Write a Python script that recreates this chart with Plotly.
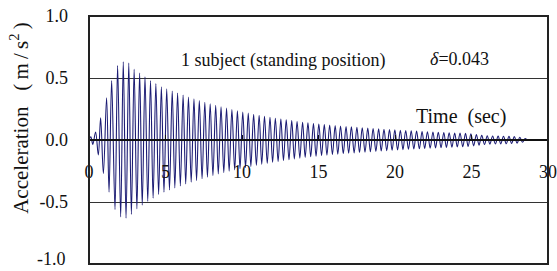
import plotly.graph_objects as go

time_s = [0.00, 0.12, 0.25, 0.43, 0.61, 0.76, 0.94, 1.15, 1.31, 1.48, 1.70, 1.87, 2.07,
          2.24, 2.42, 2.60, 2.77, 2.95, 3.13, 3.31, 3.48, 3.66, 3.84,
          4.02, 4.19, 4.37, 4.55, 4.73, 4.90, 5.08, 5.26, 5.44, 5.61,
          5.79, 5.97, 6.15, 6.32, 6.50, 6.68, 6.86, 7.03, 7.21, 7.39,
          7.57, 7.74, 7.92, 8.10, 8.28, 8.45, 8.63, 8.81, 8.99, 9.16,
          9.34, 9.52, 9.70, 9.87, 10.05, 10.23, 10.41, 10.58, 10.76, 10.94,
          11.12, 11.29, 11.47, 11.65, 11.83, 12.00, 12.18, 12.36, 12.54, 12.71,
          12.89, 13.07, 13.25, 13.42, 13.60, 13.78, 13.96, 14.13, 14.31, 14.49,
          14.67, 14.84, 15.02, 15.20, 15.38, 15.55, 15.73, 15.91, 16.09, 16.26,
          16.44, 16.62, 16.80, 16.97, 17.15, 17.33, 17.51, 17.68, 17.86, 18.04,
          18.22, 18.39, 18.57, 18.75, 18.93, 19.10, 19.28, 19.46, 19.64, 19.81,
          19.99, 20.17, 20.35, 20.52, 20.70, 20.88, 21.06, 21.23, 21.41, 21.59,
          21.77, 21.94, 22.12, 22.30, 22.48, 22.65, 22.83, 23.01, 23.19, 23.36,
          23.54, 23.72, 23.90, 24.07, 24.25, 24.43, 24.61, 24.78, 24.96, 25.14,
          25.32, 25.49, 25.67, 25.85, 26.03, 26.20, 26.38, 26.56, 26.74, 26.91,
          27.09, 27.27, 27.45, 27.62, 27.80, 27.98, 28.16, 28.33, 28.51,
          28.65]

accel = [0.0, 0.025, -0.035, 0.065, -0.12, 0.18, -0.27, 0.34, -0.42, 0.48, -0.56, 0.60, -0.62,
         0.63, -0.63, 0.62, -0.60, 0.57, -0.555, 0.54, -0.525, 0.51, -0.495,
         0.48, -0.47, 0.455, -0.44, 0.43, -0.421, 0.412, -0.403, 0.395, -0.386,
         0.378, -0.370, 0.362, -0.355, 0.347, -0.340, 0.333, -0.326, 0.319, -0.312,
         0.305, -0.299, 0.292, -0.286, 0.280, -0.274, 0.268, -0.263, 0.257, -0.252,
         0.246, -0.241, 0.236, -0.231, 0.226, -0.222, 0.217, -0.213, 0.208, -0.204,
         0.200, -0.196, 0.192, -0.188, 0.184, -0.180, 0.176, -0.173, 0.169, -0.166,
         0.162, -0.159, 0.156, -0.153, 0.149, -0.146, 0.143, -0.140, 0.138, -0.135,
         0.133, -0.131, 0.128, -0.126, 0.124, -0.122, 0.120, -0.118, 0.116, -0.114,
         0.113, -0.111, 0.109, -0.107, 0.106, -0.104, 0.102, -0.101, 0.099, -0.098,
         0.096, -0.095, 0.093, -0.092, 0.090, -0.089, 0.087, -0.086, 0.084, -0.083,
         0.082, -0.080, 0.079, -0.078, 0.077, -0.075, 0.074, -0.073, 0.072, -0.071,
         0.069, -0.068, 0.067, -0.066, 0.065, -0.064, 0.063, -0.062, 0.061, -0.060,
         0.059, -0.058, 0.057, -0.056, 0.056, -0.055, 0.054, -0.052, 0.050, -0.047,
         0.044, -0.041, 0.038, -0.036, 0.034, -0.033, 0.032, -0.032, 0.031, -0.031,
         0.030, -0.030, 0.029, -0.028, 0.027, -0.025, 0.022, -0.018, 0.012,
         0.0]

n = min(len(time_s), len(accel))
time_s, accel = time_s[:n], accel[:n]

x_ticks = [0, 5, 10, 15, 20, 25, 30]
y_ticks = [-1.0, -0.5, 0.0, 0.5, 1.0]
y_labels = ["%.1f" % v for v in y_ticks]

FONT = "Liberation Serif"
TXT = "#111"

fig = go.Figure()
fig.add_trace(go.Scatter(
    x=time_s, y=accel, mode="lines",
    line=dict(color="#1c1c74", width=1.1, shape="spline", smoothing=1.0),
    hoverinfo="skip", showlegend=False,
))

fig.update_layout(
    width=557, height=271,
    margin=dict(l=89, r=9, t=16, b=7, autoexpand=False),
    paper_bgcolor="white", plot_bgcolor="white",
    font=dict(family=FONT, size=18, color=TXT),
    showlegend=False,
    xaxis=dict(
        range=[0, 30], tickvals=x_ticks, ticktext=[str(v) for v in x_ticks],
        anchor="free", position=0.5, automargin=False,
        showline=True, linecolor="#111", linewidth=1.5,
        ticks="inside", ticklen=4, tickcolor="#111", tickwidth=1,
        ticklabelstandoff=16, ticklabeloverflow="allow",
        showgrid=False, zeroline=False,
        tickfont=dict(family=FONT, size=18, color=TXT),
    ),
    yaxis=dict(
        range=[-1, 1], tickvals=y_ticks[1:], ticktext=y_labels[1:],
        domain=[0, 1], automargin=False,
        showline=False, ticks="", ticklabelstandoff=20, ticklabeloverflow="allow",
        showgrid=True, gridcolor="#333", gridwidth=1,
        zeroline=False,
        tickfont=dict(family=FONT, size=18, color=TXT),
    ),
    shapes=[dict(type="rect", xref="paper", yref="paper", x0=0, y0=0, x1=1, y1=1,
                 line=dict(color="#222", width=2), layer="above")],
    annotations=[
        # lowest y tick label, lifted slightly so it stays inside the page
        dict(text=y_labels[0], xref="paper", yref="paper", x=-0.0458, y=-0.028,
             xanchor="right", yanchor="bottom", showarrow=False,
             font=dict(family=FONT, size=18, color=TXT)),
        dict(text="Acceleration\u00a0\u00a0\u00a0(\u2009m\u2009/\u2009s<sup>2</sup>\u2009)",
             textangle=-90,
             xref="paper", yref="paper", x=-0.15, y=0.59,
             xanchor="center", yanchor="middle", showarrow=False,
             font=dict(family=FONT, size=21, color=TXT)),
        dict(text="1 subject (standing position)", xref="x", yref="y",
             x=12.68, y=0.645, xanchor="center", yanchor="middle", showarrow=False,
             font=dict(family=FONT, size=18, color=TXT)),
        dict(text="<i>δ</i>=0.043", xref="x", yref="y",
             x=24.2, y=0.65, xanchor="center", yanchor="middle", showarrow=False,
             font=dict(family=FONT, size=18, color=TXT)),
        dict(text="Time\u00a0\u00a0(sec)", xref="x", yref="y",
             x=24.3, y=0.19, xanchor="center", yanchor="middle", showarrow=False,
             font=dict(family=FONT, size=20, color=TXT)),
    ],
)

fig.write_html("out.html", config={"displayModeBar": False},
               post_script="document.body.style.margin='0';")
